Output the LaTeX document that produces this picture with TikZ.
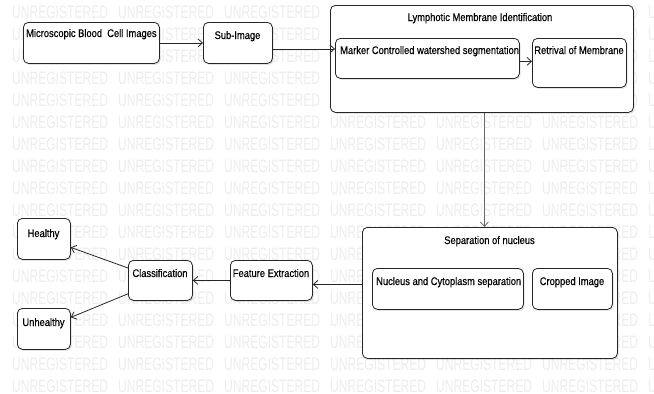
\documentclass[tikz,border=0pt]{standalone}
\usepackage{fontspec}
\newfontfamily\lblfont[FakeStretch=0.85,FakeBold=0.35]{Liberation Sans}
\newfontfamily\wmfont[FakeStretch=0.67]{Liberation Sans}
\usetikzlibrary{arrows.meta,shadows}
\begin{document}
\begin{tikzpicture}[x=1pt,y=-1pt,
  box/.style={draw=black!85, line width=0.8pt, rounded corners=5pt, fill=white,
    anchor=north west, inner sep=0pt,
    drop shadow={shadow xshift=1.2pt, shadow yshift=-1.5pt, opacity=0.22}},
  lbl/.style={inner sep=0pt, font=\lblfont\fontsize{11}{13}\selectfont, text=black},
  arr/.style={draw=black!85, line width=0.8pt, -{Straight Barb[length=4.5pt,width=8pt]}},
  wm/.style={anchor=west, inner sep=0pt, text=black!7, font=\wmfont\fontsize{18}{18}\selectfont}]
\useasboundingbox (0,0) rectangle (654,394);
\fill[white] (0,0) rectangle (654,394);
\begin{scope}
\clip (0,0) rectangle (654,394);
\foreach \r in {0,...,17} \foreach \c in {0,...,6}
  \node[wm] (wm-\r-\c) at (12+106*\c, 12+22*\r) {UNREGISTERED};
\end{scope}

% boxes
\node[box, minimum width=136pt, minimum height=41pt] (micro) at (23,22) {};
\node[box, minimum width=69pt, minimum height=41pt] (sub) at (203,22) {};
\node[box, minimum width=303pt, minimum height=107pt] (lymph) at (330,5) {};
\node[box, minimum width=184pt, minimum height=40pt] (marker) at (335,38) {};
\node[box, minimum width=94pt, minimum height=49pt] (retr) at (532,38) {};
\node[box, minimum width=255pt, minimum height=131pt] (sep) at (362,227) {};
\node[box, minimum width=151pt, minimum height=41pt] (nuc) at (372,268) {};
\node[box, minimum width=80pt, minimum height=41pt] (crop) at (532,268) {};
\node[box, minimum width=82pt, minimum height=40pt] (feat) at (230,260) {};
\node[box, minimum width=64pt, minimum height=40pt] (cls) at (128,260) {};
\node[box, minimum width=53pt, minimum height=41pt] (healthy) at (17,218) {};
\node[box, minimum width=53pt, minimum height=41pt] (unhealthy) at (17,308) {};

% labels
\node[lbl, anchor=base west] (micro-t) at (26,37) {Microscopic Blood\ \ Cell Images};
\node[lbl, anchor=base] (sub-t) at (237.5,39) {Sub-Image};
\node[lbl, anchor=base] (lymph-t) at (480,21) {Lymphotic Membrane Identification};
\node[lbl, anchor=base west] (marker-t) at (340,54) {Marker Controlled watershed segmentation};
\node[lbl, anchor=base] (retr-t) at (579,54) {Retrival of Membrane};
\node[lbl, anchor=base] (sep-t) at (489.5,244) {Separation of nucleus};
\node[lbl, anchor=base west] (nuc-t) at (376,285) {Nucleus and Cytoplasm separation};
\node[lbl, anchor=base] (crop-t) at (572,285) {Cropped Image};
\node[lbl, anchor=base] (feat-t) at (271,277) {Feature Extraction};
\node[lbl, anchor=base] (cls-t) at (160,277) {Classification};
\node[lbl, anchor=base] (healthy-t) at (43.5,237) {Healthy};
\node[lbl, anchor=base] (unhealthy-t) at (43.5,326) {Unhealthy};

% connectors
\draw[arr] (micro.east) -- (sub.west);
\coordinate (a2) at ([yshift=-6pt]sub.east);
\draw[arr] (a2) -- (a2 -| marker.west);
\coordinate (a3) at ([yshift=-3pt]marker.east);
\draw[arr] (a3) -- (a3 -| retr.west);
\coordinate (a4) at ([xshift=2.5pt]lymph.south);
\draw[arr, draw=black!60] (a4) -- (a4 |- sep.north);
\coordinate (a5) at ([yshift=-4pt]feat.east);
\draw[arr] (a5 -| sep.west) -- (a5);
\draw[arr] (feat.west) -- (cls.east);
\draw[arr] ([yshift=-8pt]cls.north west) -- ([yshift=-8.5pt]healthy.east);
\draw[arr] ([yshift=7pt]cls.south west) -- ([yshift=11.5pt]unhealthy.east);
\end{tikzpicture}
\end{document}
